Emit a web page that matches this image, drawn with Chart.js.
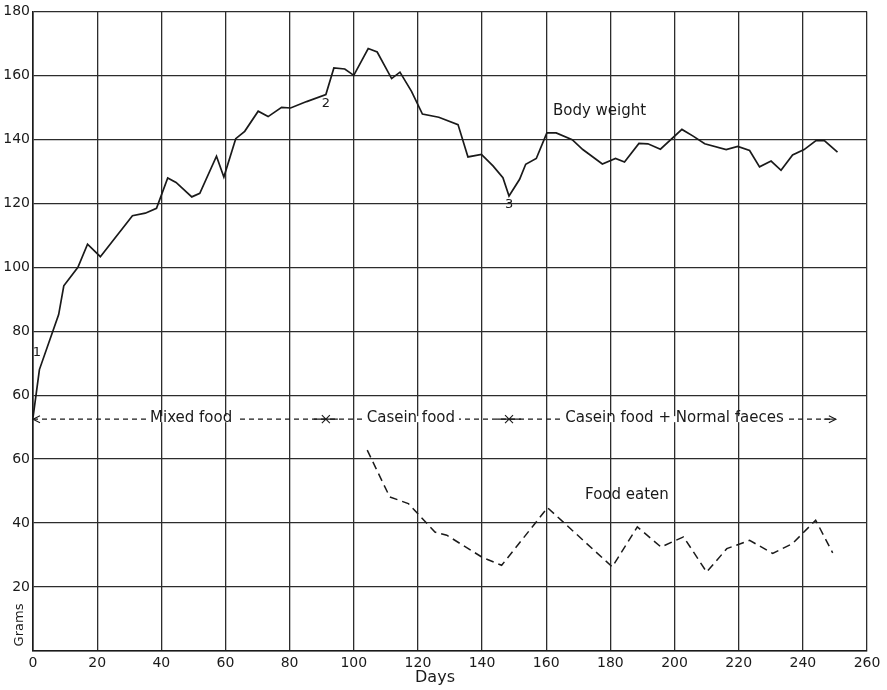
<!DOCTYPE html>
<html>
<head>
  <meta charset="UTF-8">
  <title>Body weight and food eaten</title>
  <script src="https://cdn.jsdelivr.net/npm/chart.js"></script>
  <style>
    body, html {
      margin: 0;
      padding: 0;
      background: #fff;
    }
    #wrap {
      width: 887px;
      height: 690px;
      position: relative;
    }
  </style>
</head>
<body>
  <div id="wrap"><canvas id="chart" width="887" height="690"></canvas></div>

  <script>
    // body weight curve (days, grams on the upper scale)
    const weightDays = [0, 2, 8, 9.6, 14, 17, 21, 31, 35, 38.5, 42, 44.6, 49.5, 52, 57.2, 59.5, 63.2, 66, 70.2, 73.3,
      77.5, 80.3, 85.3, 91.3, 93.8, 97.2, 100, 104.5, 107.3, 111.8, 114.4, 118, 121.4, 126.5, 132.5, 135.6, 139.8,
      143.4, 146.5, 148.4, 151.7, 153.6, 156.9, 160.2, 163.1, 168.1, 171.4, 177.5, 181.6, 184.4, 188.9, 191.7, 195.6,
      202.3, 205.8, 209.4, 216.1, 219.7, 223.4, 226.5, 230.1, 233.2, 236.8, 240.4, 244.1, 246.7, 250.8];
    const bodyWeight = [53, 68, 85.2, 94.2, 100, 107.2, 103.3, 116.1, 116.9, 118.4, 127.9, 126.5, 122, 123.1, 134.7, 128.2,
      140.2, 142.5, 148.8, 147.1, 150, 149.8, 151.8, 154, 162.3, 162, 160, 168.4, 167.3, 159, 161, 155, 147.9, 146.9,
      144.6, 134.5, 135.3, 131.7, 128, 122.3, 127.5, 132.2, 134, 142, 142, 139.9, 136.8, 132.3, 134, 132.9, 138.7,
      138.6, 136.9, 143.1, 141, 138.6, 136.8, 137.8, 136.5, 131.4, 133.2, 130.3, 135.1, 136.8, 139.6, 139.6, 136];

    // food eaten (days, grams on the lower scale)
    const foodDays = [104.2, 111.2, 117, 125.3, 129, 140.2, 146.1, 160.4, 180.6, 188.4, 195.8, 202.8, 210, 216.3,
      223.4, 230.6, 236.8, 244, 249.3];
    const foodEaten = [62.8, 48.2, 46.1, 37.2, 36.2, 29.2, 26.8, 44.8, 26.3, 38.8, 32.5, 35.7, 24.7, 32, 34.6, 30.5,
      33.6, 40.9, 30.7];

    // diet periods shown on the arrow line
    const periodEdges = [0, 91.3, 148.4, 250.3];
    const periodNames = ['Mixed food', 'Casein food', 'Casein food + Normal faeces'];
    const periodCentres = [49.3, 117.8, 200];
    const periodLevel = 52.5;

    // numbered points on the weight curve
    const markDays = [1.25, 91.3, 148.4];
    const markValues = [73.3, 151.3, 119.5];
    const markTexts = ['1', '2', '3'];

    const ink = '#1a1a1a';
    const gridInk = '#2c2c2c';
    const face = '"DejaVu Sans", sans-serif';

    const notes = {
      id: 'notes',
      afterDatasetsDraw(chart) {
        const c = chart.ctx;
        const xs = chart.scales.x;
        const ys = chart.scales.y;
        const area = chart.chartArea;
        c.save();
        c.fillStyle = ink;
        c.strokeStyle = ink;

        // dashed period line
        const py = ys.getPixelForValue(periodLevel);
        const x0 = xs.getPixelForValue(periodEdges[0]);
        const x1 = xs.getPixelForValue(periodEdges[periodEdges.length - 1]);
        c.lineWidth = 1.1;
        c.setLineDash([5, 4]);
        c.beginPath();
        c.moveTo(x0, py);
        c.lineTo(x1 - 2, py);
        c.stroke();
        c.setLineDash([]);

        // period names with gaps in the line
        c.font = '15px ' + face;
        c.textAlign = 'center';
        c.textBaseline = 'middle';
        periodNames.forEach((name, i) => {
          const cx = xs.getPixelForValue(periodCentres[i]);
          const w = c.measureText(name).width;
          c.fillStyle = '#fff';
          c.fillRect(cx - w / 2 - 4, py - 3, w + 8, 6);
          c.fillStyle = ink;
          c.fillText(name, cx, py - 1);
        });

        // arrow heads and crosses
        const head = (x, dir) => {
          c.beginPath();
          c.moveTo(x - dir * 7, py - 3.5);
          c.lineTo(x, py);
          c.lineTo(x - dir * 7, py + 3.5);
          c.stroke();
        };
        head(x0, -1);
        head(x1, 1);
        c.beginPath();
        c.moveTo(x1 - 12, py);
        c.lineTo(x1, py);
        c.stroke();
        periodEdges.slice(1, -1).forEach(d => {
          const x = xs.getPixelForValue(d);
          c.beginPath();
          c.moveTo(x - 4, py - 4); c.lineTo(x + 4, py + 4);
          c.moveTo(x - 4, py + 4); c.lineTo(x + 4, py - 4);
          c.moveTo(x - 12, py); c.lineTo(x + 12, py);
          c.stroke();
        });

        // curve names
        c.textAlign = 'left';
        c.font = '15px ' + face;
        c.fillText('Body weight', xs.getPixelForValue(162.1), ys.getPixelForValue(148.8));
        c.fillText('Food eaten', xs.getPixelForValue(172.1), ys.getPixelForValue(28.7));

        // numbered points
        c.textAlign = 'center';
        c.font = '13px ' + face;
        markTexts.forEach((t, i) => {
          c.fillText(t, xs.getPixelForValue(markDays[i]), ys.getPixelForValue(markValues[i]));
        });

        // axis names
        c.font = '16px ' + face;
        c.fillText('Days', 435, area.bottom + 27);
        c.translate(area.left - 13, area.bottom - 26);
        c.rotate(-Math.PI / 2);
        c.font = '13px ' + face;
        c.fillText('Grams', 0, 0);
        c.restore();
      }
    };

    new Chart(document.getElementById('chart'), {
      type: 'line',
      data: {
        datasets: [
          {
            label: 'Body weight',
            data: weightDays.map((d, i) => ({ x: d, y: bodyWeight[i] })),
            borderColor: ink,
            borderWidth: 1.7,
            pointRadius: 0,
            tension: 0,
            yAxisID: 'y'
          },
          {
            label: 'Food eaten',
            data: foodDays.map((d, i) => ({ x: d, y: foodEaten[i] })),
            borderColor: ink,
            borderWidth: 1.5,
            borderDash: [8, 5],
            pointRadius: 0,
            tension: 0,
            yAxisID: 'y2'
          }
        ]
      },
      options: {
        responsive: false,
        animation: false,
        layout: { padding: { top: 10, right: 20, left: 0, bottom: 0 } },
        plugins: {
          legend: { display: false },
          tooltip: { enabled: false }
        },
        scales: {
          x: {
            type: 'linear',
            min: 0,
            max: 260,
            ticks: { stepSize: 20, padding: 4, color: ink, font: { family: face, size: 14 } },
            grid: { color: gridInk, lineWidth: 1.3, drawTicks: false },
            border: { color: ink, width: 1.6 },
            afterFit(axis) { axis.height = 39; }
          },
          y: {
            min: -20,
            max: 180,
            ticks: {
              stepSize: 20,
              padding: 3,
              color: ink,
              font: { family: face, size: 14 },
              // upper scale for body weight, lower scale (+20) for food eaten
              callback: v => v >= 60 ? v : (v >= 0 ? v + 20 : '')
            },
            grid: { color: gridInk, lineWidth: 1.3, drawTicks: false },
            border: { color: ink, width: 1.6 },
            afterFit(axis) { axis.width = 33; }
          },
          y2: {
            display: false,
            min: 0,
            max: 200
          }
        }
      },
      plugins: [notes]
    });
  </script>
</body>
</html>
